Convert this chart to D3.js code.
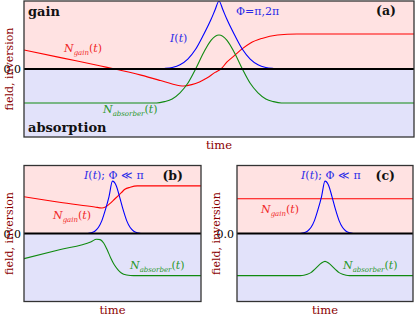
<!DOCTYPE html>
<html><head><meta charset="utf-8">
<script src="https://cdn.jsdelivr.net/npm/d3@7"></script>
<style>body{margin:0;background:#fff}svg{display:block}</style>
</head><body><svg id="c" width="415" height="316"></svg>
<script>
// ---- data (time 0..100, field/inversion -1..1) ----
const timeDomain = [0, 100];
const valueDomain = [-1, 1];
const yTicks = [0];

// panel (a): Phi = pi, 2pi
const intensityA = [[34,0],[36,0.007],[38,0.023],[40,0.063],[42,0.146],[44,0.29],[46,0.5],[48,0.735],[49,0.87],[50,1.0],[51,0.87],[52,0.735],[54,0.5],[56,0.29],[58,0.146],[60,0.063],[62,0.023],[64,0.007],[66,0]];
const gainA = [[0,0.28],[10,0.16],[20,0.04],[23.3,0],[30,-0.09],[35,-0.17],[38,-0.22],[41,-0.25],[43,-0.23],[45,-0.19],[47,-0.13],[49,-0.05],[50.5,0],[52,0.1],[54,0.2],[56,0.3],[58,0.38],[61,0.45],[65,0.5],[70,0.515],[100,0.515]];
const absorberA = [[0,-0.5],[34,-0.5],[36,-0.48],[38,-0.44],[40,-0.35],[42,-0.21],[44,0],[46,0.235],[48,0.426],[50,0.5],[52,0.426],[54,0.235],[56,0],[58,-0.21],[60,-0.35],[62,-0.44],[64,-0.48],[66,-0.5],[100,-0.5]];

// panel (b): Phi << pi
const intensityB = [[36,0],[38,0.01],[40,0.034],[42,0.088],[44,0.19],[46,0.35],[48,0.54],[50,0.77],[52,0.71],[54,0.54],[56,0.35],[58,0.19],[60,0.088],[62,0.034],[64,0.01],[66,0]];
const gainB = [[0,0.54],[20,0.46],[40,0.39],[44,0.375],[46,0.39],[48.5,0.44],[51,0.5],[53,0.55],[55,0.6],[57,0.65],[60,0.68],[64,0.7],[100,0.7]];
const absorberB = [[0,-0.37],[20,-0.24],[38,-0.12],[41,-0.085],[43,-0.09],[45,-0.14],[47,-0.24],[49,-0.36],[51,-0.46],[53,-0.53],[55,-0.58],[58,-0.61],[62,-0.62],[100,-0.62]];

// panel (c): Phi << pi, unsaturated
const intensityC = [[36,0],[38,0.01],[40,0.034],[42,0.088],[44,0.19],[46,0.35],[48,0.54],[50,0.77],[52,0.71],[54,0.54],[56,0.35],[58,0.19],[60,0.088],[62,0.034],[64,0.01],[66,0]];
const gainC = [[0,0.51],[100,0.51]];
const absorberC = [[0,-0.62],[36,-0.62],[38,-0.615],[40,-0.6],[42,-0.575],[44,-0.53],[46,-0.48],[48,-0.435],[50,-0.41],[52,-0.435],[54,-0.48],[56,-0.53],[58,-0.575],[60,-0.6],[62,-0.615],[64,-0.62],[100,-0.62]];

const panelTags = ["(a)", "(b)", "(c)"];

// ---- drawing ----
const svg = d3.select("#c");
const SERIF = "'DejaVu Serif', 'Liberation Serif', serif";
const C = {
  red: "#ff0000", blue: "#0000ff", green: "#108a10",
  redT: "#f02828", blueT: "#2a2ae8", greenT: "#2a982a",
  pink: "#ffe2e2", lav: "#e2e2fa", axis: "#8b0000"
};

const panels = [
  {box:{x0:24,x1:414,y0:1,y1:137}, I:intensityA, G:gainA, A:absorberA, tag:panelTags[0], lab:11},
  {box:{x0:24,x1:201,y0:165.5,y1:301.5}, I:intensityB, G:gainB, A:absorberB, tag:panelTags[1], lab:11},
  {box:{x0:237,x1:413,y0:165.5,y1:301.5}, I:intensityC, G:gainC, A:absorberC, tag:panelTags[2], lab:17}
];

function mathLabel(g, x, y, sub, color, extra) {
  const t = g.append("text").attr("x", x).attr("y", y)
    .attr("font-family", SERIF).attr("font-size", 11).attr("fill", color);
  if (sub !== null) {
    t.append("tspan").attr("font-style","italic").text("N");
    t.append("tspan").attr("font-style","italic").attr("font-size",7).attr("dy",2.5).text(sub);
    t.append("tspan").attr("dy",-2.5).text("(");
  } else {
    t.append("tspan").attr("font-style","italic").text("I");
    t.append("tspan").text("(");
  }
  t.append("tspan").attr("font-style","italic").text("t");
  t.append("tspan").text(")" + (extra || ""));
  return t;
}

panels.forEach((p, i) => {
  const b = p.box;
  const x = d3.scaleLinear().domain(timeDomain).range([b.x0, b.x1]);
  const y = d3.scaleLinear().domain(valueDomain).range([b.y1, b.y0]);
  const g = svg.append("g");
  const cid = "clip" + i;
  g.append("clipPath").attr("id", cid).append("rect")
    .attr("x", b.x0).attr("y", b.y0).attr("width", b.x1 - b.x0).attr("height", b.y1 - b.y0);

  g.append("rect").attr("x", b.x0).attr("y", b.y0).attr("width", b.x1-b.x0)
    .attr("height", y(0)-b.y0).attr("fill", C.pink);
  g.append("rect").attr("x", b.x0).attr("y", y(0)).attr("width", b.x1-b.x0)
    .attr("height", b.y1-y(0)).attr("fill", C.lav);

  const line = d3.line().x(d => x(d[0])).y(d => y(d[1])).curve(d3.curveMonotoneX);
  const cg = g.append("g").attr("clip-path", `url(#${cid})`);
  [[p.G, C.red],[p.A, C.green],[p.I, C.blue]].forEach(([data, col]) => {
    cg.append("path").attr("d", line(data)).attr("fill","none")
      .attr("stroke", col).attr("stroke-width", 1.1);
  });

  // zero line
  g.append("line").attr("x1", b.x0).attr("x2", b.x1).attr("y1", y(0)).attr("y2", y(0))
    .attr("stroke", "#000").attr("stroke-width", 1.8);
  // frame
  g.append("rect").attr("x", b.x0).attr("y", b.y0).attr("width", b.x1-b.x0).attr("height", b.y1-b.y0)
    .attr("fill","none").attr("stroke","#333").attr("stroke-width",1.3);

  // y axis tick label
  const ya = d3.axisLeft(y).tickValues(yTicks).tickSize(0).tickPadding(3);
  const yg = g.append("g").attr("transform", `translate(${b.x0},0)`).call(ya);
  yg.select(".domain").remove();
  yg.selectAll("text").attr("font-family", SERIF).attr("font-size", 11).attr("fill", "#000");

  // axis titles
  g.append("text").attr("transform", `translate(${b.x0-p.lab},${(b.y0+b.y1)/2}) rotate(-90)`)
    .attr("text-anchor","middle").attr("font-family", SERIF).attr("font-size", 11)
    .attr("fill", C.axis).text("field, inversion");
  g.append("text").attr("x", (b.x0+b.x1)/2).attr("y", b.y1 + 12)
    .attr("text-anchor","middle").attr("font-family", SERIF).attr("font-size", 11.5)
    .attr("fill", C.axis).text("time");

  // panel tag
  g.append("text").attr("x", b.x1 - 18).attr("y", b.y0 + 14).attr("text-anchor","end")
    .attr("font-family", SERIF).attr("font-weight","bold").attr("font-size", 12.5)
    .attr("fill","#111").text(p.tag);

  if (i === 0) {
    g.append("text").attr("x", 28).attr("y", 16).attr("font-family", SERIF)
      .attr("font-weight","bold").attr("font-size", 13).attr("fill","#111").text("gain");
    g.append("text").attr("x", 28).attr("y", 132).attr("font-family", SERIF)
      .attr("font-weight","bold").attr("font-size", 13).attr("fill","#111").text("absorption");
    mathLabel(g, 64, 52, "gain", C.redT);
    mathLabel(g, 170, 42, null, C.blueT);
    g.append("text").attr("x", 236).attr("y", 15).attr("font-family", SERIF).attr("font-size", 11)
      .attr("fill", C.blueT).text("Φ=π,2π");
    mathLabel(g, 103, 113, "absorber", C.greenT);
  } else if (i === 1) {
    mathLabel(g, 84, 179, null, C.blueT, "; Φ ≪ π");
    mathLabel(g, 53, 219, "gain", C.redT);
    mathLabel(g, 130, 269, "absorber", C.greenT);
  } else {
    mathLabel(g, 301, 179, null, C.blueT, "; Φ ≪ π");
    mathLabel(g, 261, 213, "gain", C.redT);
    mathLabel(g, 343, 269, "absorber", C.greenT);
  }
});
</script></body></html>
